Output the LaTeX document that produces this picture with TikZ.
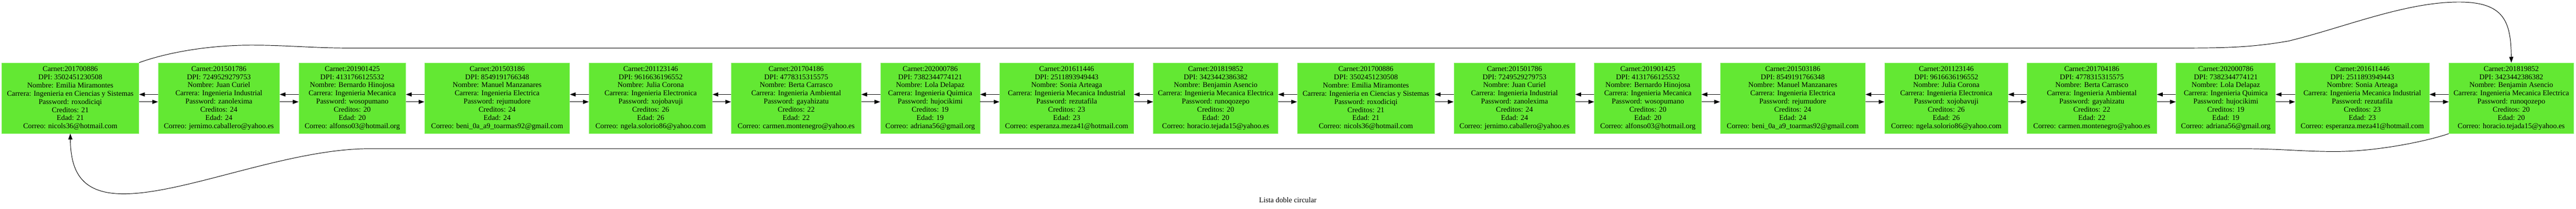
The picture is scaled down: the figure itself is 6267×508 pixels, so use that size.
\documentclass[tikz,border=0pt]{standalone}
\usepackage{fontspec}
\setmainfont{Liberation Serif}
\usetikzlibrary{arrows.meta}
\definecolor{nodegreen}{RGB}{99,232,51}
\definecolor{nodeedge}{RGB}{140,240,110}
\tikzset{
  stud/.style={rectangle, fill=nodegreen, draw=nodeedge, line width=1pt,
    minimum height=172pt, inner sep=0pt, align=center,
    font=\fontsize{18pt}{20pt}\selectfont},
  link/.style={draw=black, line width=1.2pt, -{Triangle[length=14pt,width=10pt]}},
  titletext/.style={font=\fontsize{18pt}{20pt}\selectfont}
}
\newcommand\PairNode[4]{%
  \node[stud, minimum width=#3pt] (n#1) at (#2,239) {#4};
  \pgfmathtruncatemacro\othernode{#1+9}%
  \node[stud, minimum width=#3pt] (n\othernode) at ({#2+3152},239) {#4};
}
\begin{document}
\begin{tikzpicture}[x=1pt,y=-1pt]
\useasboundingbox (0,0) rectangle (6267,508);
\PairNode{1}{171}{334}{Carnet:201700886\\DPI: 3502451230508\\Nombre: Emilia Miramontes\\Carrera: Ingenieria en Ciencias y Sistemas\\Password: roxodiciqi\\Creditos: 21\\Edad: 21\\Correo: nicols36@hotmail.com}
\PairNode{2}{532.5}{295}{Carnet:201501786\\DPI: 7249529279753\\Nombre: Juan Curiel\\Carrera: Ingenieria Industrial\\Password: zanolexima\\Creditos: 24\\Edad: 24\\Correo: jernimo.caballero@yahoo.es}
\PairNode{3}{857}{260}{Carnet:201901425\\DPI: 4131766125532\\Nombre: Bernardo Hinojosa\\Carrera: Ingenieria Mecanica\\Password: wosopumano\\Creditos: 20\\Edad: 20\\Correo: alfonso03@hotmail.org}
\PairNode{4}{1209.5}{353}{Carnet:201503186\\DPI: 8549191766348\\Nombre: Manuel Manzanares\\Carrera: Ingenieria Electrica\\Password: rejumudore\\Creditos: 24\\Edad: 24\\Correo: beni\_0a\_a9\_toarmas92@gmail.com}
\PairNode{5}{1583}{300}{Carnet:201123146\\DPI: 9616636196552\\Nombre: Julia Corona\\Carrera: Ingenieria Electronica\\Password: xojobavuji\\Creditos: 26\\Edad: 26\\Correo: ngela.solorio86@yahoo.com}
\PairNode{6}{1937}{316}{Carnet:201704186\\DPI: 4778315315575\\Nombre: Berta Carrasco\\Carrera: Ingenieria Ambiental\\Password: gayahizatu\\Creditos: 22\\Edad: 22\\Correo: carmen.montenegro@yahoo.es}
\PairNode{7}{2263}{242}{Carnet:202000786\\DPI: 7382344774121\\Nombre: Lola Delapaz\\Carrera: Ingenieria Quimica\\Password: hujocikimi\\Creditos: 19\\Edad: 19\\Correo: adriana56@gmail.org}
\PairNode{8}{2595}{326}{Carnet:201611446\\DPI: 2511893949443\\Nombre: Sonia Arteaga\\Carrera: Ingenieria Mecanica Industrial\\Password: rezutafila\\Creditos: 23\\Edad: 23\\Correo: esperanza.meza41@hotmail.com}
\PairNode{9}{2957.5}{303}{Carnet:201819852\\DPI: 3423442386382\\Nombre: Benjamin Asencio\\Carrera: Ingenieria Mecanica Electrica\\Password: runoqozepo\\Creditos: 20\\Edad: 20\\Correo: horacio.tejada15@yahoo.es}
% links between neighbours
\foreach \i in {1,...,17} {
  \pgfmathtruncatemacro\j{\i+1}
  \draw[link] ([yshift=9pt]n\j.west) -- ([yshift=9pt]n\i.east);
  \draw[link] ([yshift=-9pt]n\i.east) -- ([yshift=-9pt]n\j.west);
}
% top curve: first -> last
\draw[link] (n1.north east) .. controls (400,130) and (500,110) .. (612,110)
  .. controls (700,110) and (760,117) .. (850,117) -- (5300,117)
  .. controls (5420,117) and (5480,115) .. (5567,100)
  .. controls (5700,68) and (5850,5) .. (5982,5)
  .. controls (6090,5) and (6109,50) .. (n18.north);
% bottom curve: last -> first
\draw[link] (n18.south west) .. controls (5900,345) and (5780,369) .. (5680,369)
  .. controls (5600,369) and (5550,362) .. (5450,362) -- (900,362)
  .. controls (700,362) and (450,472) .. (301,472)
  .. controls (200,472) and (172,420) .. (n1.south);
\node[titletext] (title) at (3133,487) {Lista doble circular};
\end{tikzpicture}
\end{document}
